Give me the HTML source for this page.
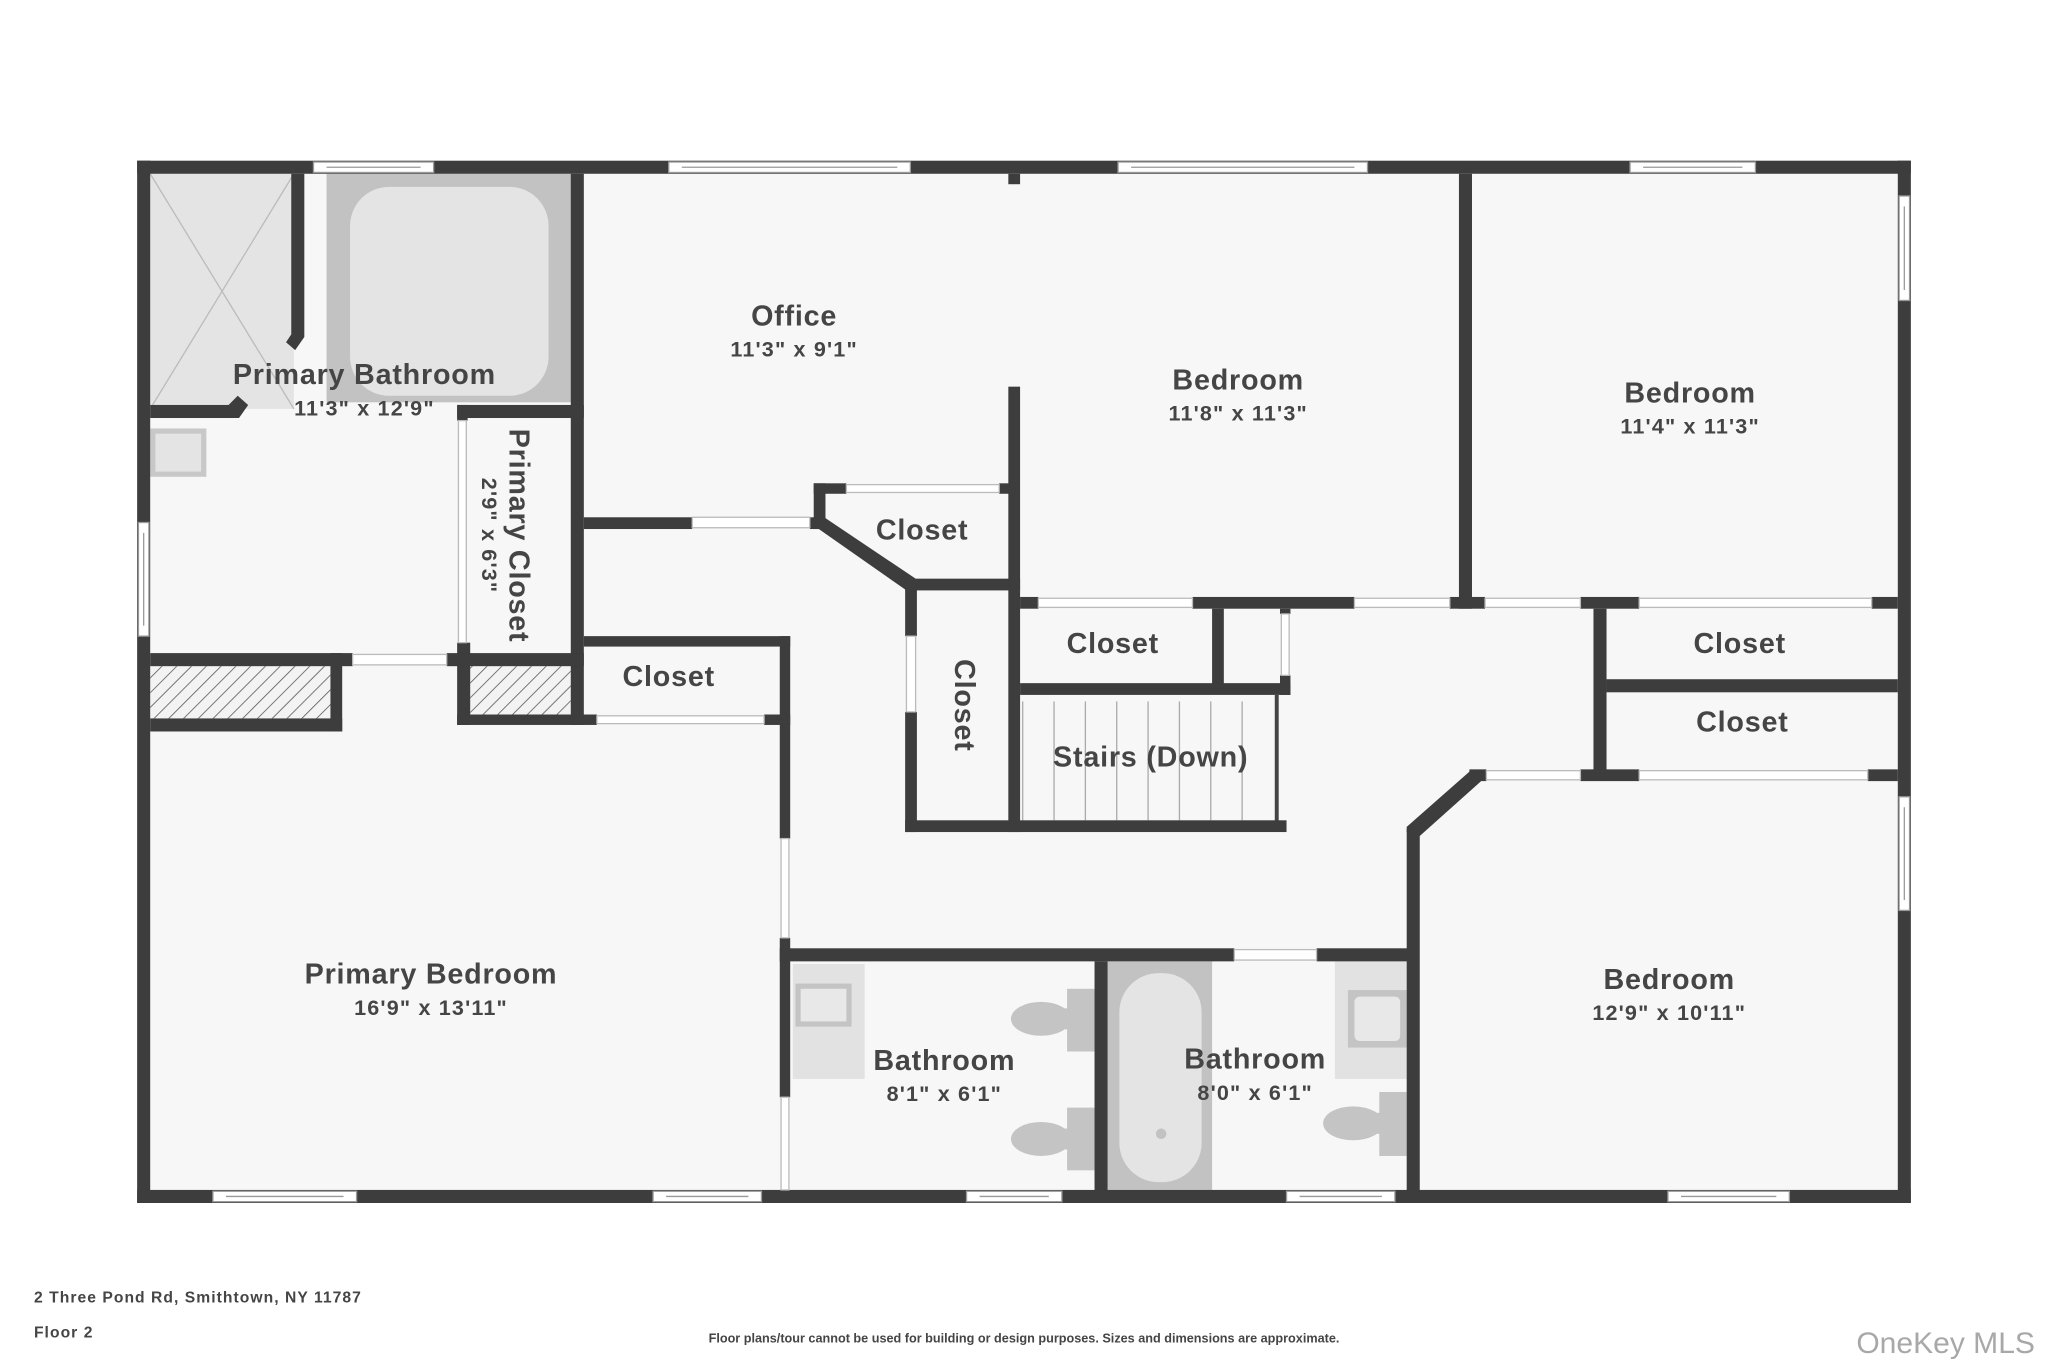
<!DOCTYPE html>
<html><head><meta charset="utf-8"><style>
html,body{margin:0;padding:0;background:#fff;}
svg{display:block;}
text{font-family:"Liberation Sans",sans-serif;font-weight:bold;fill:#454545;}
.t{font-size:22px;letter-spacing:0.6px;}
.d{font-size:16.5px;letter-spacing:0.9px;}
</style></head><body>
<svg width="2048" height="1365" viewBox="0 0 1568 1045" xmlns="http://www.w3.org/2000/svg">
<defs>
<pattern id="h" width="8" height="8" patternUnits="userSpaceOnUse" patternTransform="rotate(45)">
<rect width="8" height="8" fill="#f3f3f3"/><line x1="0" y1="0" x2="0" y2="8" stroke="#555" stroke-width="1.2"/>
</pattern>
</defs>
<rect x="0" y="0" width="1568" height="1045" fill="#fff"/>
<rect x="105" y="123" width="1358" height="798" fill="#f7f7f7"/>
<rect x="115" y="133" width="110" height="180" fill="#e4e4e4"/>
<line x1="115" y1="133" x2="225" y2="313" stroke="#bbb" stroke-width="1"/>
<line x1="225" y1="133" x2="115" y2="313" stroke="#bbb" stroke-width="1"/>
<rect x="250" y="133" width="188" height="175" fill="#c2c2c2"/>
<rect x="268" y="143" width="152" height="160" rx="30" fill="#e4e4e4"/>
<rect x="115" y="328" width="43" height="37" fill="#c8c8c8"/><rect x="119" y="332" width="35" height="29" fill="#e4e4e4"/>
<rect x="115" y="510" width="138" height="40" fill="url(#h)"/>
<rect x="360" y="510" width="77" height="37" fill="url(#h)"/>
<g stroke="#aaa" stroke-width="1">
<line x1="783" y1="537" x2="783" y2="628"/><line x1="807" y1="537" x2="807" y2="628"/><line x1="831" y1="537" x2="831" y2="628"/><line x1="855" y1="537" x2="855" y2="628"/><line x1="879" y1="537" x2="879" y2="628"/><line x1="903" y1="537" x2="903" y2="628"/><line x1="927" y1="537" x2="927" y2="628"/><line x1="951" y1="537" x2="951" y2="628"/>
</g>
<rect x="976" y="532" width="3" height="98" fill="#444"/>
<rect x="607" y="738" width="55" height="88" fill="#e2e2e2"/>
<rect x="609" y="753" width="43" height="33" fill="#c4c4c4"/><rect x="613" y="757" width="35" height="25" fill="#e8e8e8"/>
<rect x="817" y="757" width="21" height="48" fill="#c4c4c4"/><ellipse cx="797" cy="780" rx="23" ry="13" fill="#c4c4c4"/><rect x="797" y="772" width="25" height="16" fill="#c4c4c4"/>
<rect x="817" y="848" width="21" height="48" fill="#c4c4c4"/><ellipse cx="797" cy="872" rx="23" ry="13" fill="#c4c4c4"/><rect x="797" y="864" width="25" height="16" fill="#c4c4c4"/>
<rect x="848" y="736" width="80" height="175" fill="#c2c2c2"/>
<rect x="857" y="745" width="63" height="160" rx="30" fill="#e4e4e4"/>
<circle cx="889" cy="868" r="4" fill="#c2c2c2"/>
<rect x="1022" y="736" width="55" height="90" fill="#e2e2e2"/>
<rect x="1032" y="758" width="45" height="44" fill="#c4c4c4"/><rect x="1037" y="763" width="35" height="34" rx="4" fill="#e8e8e8"/>
<rect x="1056" y="836" width="21" height="49" fill="#c4c4c4"/><ellipse cx="1036" cy="860" rx="23" ry="13" fill="#c4c4c4"/><rect x="1036" y="852" width="25" height="16" fill="#c4c4c4"/>

<g fill="#3d3d3d">
<rect x="105" y="123" width="1358" height="10"/>
<rect x="105" y="911" width="1358" height="10"/>
<rect x="105" y="123" width="10" height="798"/>
<rect x="1453" y="123" width="10" height="798"/>
<rect x="223" y="133" width="10" height="120"/>
<polygon points="223,253 233,253 233,258 226,268 219,262 223,256"/>
<rect x="115" y="310" width="62" height="10"/>
<polygon points="175,310 182,303 190,310 183,320 175,320"/>
<rect x="437" y="133" width="10" height="422"/>
<rect x="350" y="310" width="97" height="10"/>
<rect x="350" y="492" width="10" height="63"/>
<rect x="350" y="310" width="8" height="12"/>
<rect x="115" y="500" width="155" height="10"/>
<rect x="342" y="500" width="105" height="10"/>
<rect x="115" y="550" width="147" height="10"/>
<rect x="253" y="500" width="9" height="60"/>
<rect x="350" y="547" width="107" height="8"/>
<rect x="447" y="487" width="158" height="8"/>
<rect x="585" y="547" width="20" height="8"/>
<rect x="597" y="487" width="8" height="155"/>
<rect x="597" y="718" width="8" height="122"/>
<rect x="447" y="396" width="83" height="9"/>
<rect x="620" y="396" width="12" height="9"/>
<rect x="623" y="370" width="9" height="35"/>
<rect x="623" y="370" width="25" height="8"/>
<rect x="765" y="370" width="10" height="8"/>
<polygon points="624,403 631,396 701,443 694,452"/>
<rect x="693" y="443" width="88" height="9"/>
<rect x="772" y="296" width="9" height="341"/>
<rect x="772" y="133" width="9" height="8"/>
<rect x="693" y="447" width="9" height="40"/>
<rect x="693" y="545" width="9" height="92"/>
<rect x="693" y="628" width="292" height="9"/>
<rect x="781" y="457" width="14" height="9"/>
<rect x="913" y="457" width="124" height="9"/>
<rect x="1110" y="457" width="27" height="9"/>
<rect x="1210" y="457" width="45" height="9"/>
<rect x="1433" y="457" width="20" height="9"/>
<rect x="928" y="466" width="9" height="61"/>
<rect x="781" y="523" width="207" height="9"/>
<rect x="980" y="517" width="8" height="15"/>
<rect x="980" y="466" width="8" height="4"/>
<rect x="1117" y="133" width="10" height="333"/>
<rect x="1220" y="466" width="10" height="131"/>
<rect x="1230" y="520" width="223" height="10"/>
<rect x="1125" y="589" width="13" height="9"/>
<rect x="1210" y="589" width="45" height="9"/>
<rect x="1430" y="589" width="23" height="9"/>
<polygon points="1127,589 1134,598 1087,640 1077,637 1077,633"/>
<rect x="1077" y="635" width="10" height="280"/>
<rect x="597" y="726" width="348" height="10"/>
<rect x="1008" y="726" width="72" height="10"/>
<rect x="838" y="736" width="10" height="178"/>
</g>

<g fill="#fff" stroke="#bbb" stroke-width="1">
<rect x="530" y="396" width="90" height="8"/>
<rect x="648" y="371" width="117" height="6"/>
<rect x="270" y="501" width="72" height="8"/>
<rect x="351" y="322" width="6" height="170"/>
<rect x="457" y="548" width="128" height="6"/>
<rect x="598" y="642" width="6" height="76"/>
<rect x="598" y="840" width="6" height="71"/>
<rect x="694" y="487" width="7" height="58"/>
<rect x="795" y="458" width="118" height="7"/>
<rect x="1037" y="458" width="73" height="7"/>
<rect x="1137" y="458" width="73" height="7"/>
<rect x="1255" y="458" width="178" height="7"/>
<rect x="981" y="470" width="6" height="47"/>
<rect x="1138" y="590" width="72" height="7"/>
<rect x="1255" y="590" width="175" height="7"/>
<rect x="945" y="727" width="63" height="8"/>
</g>
<g fill="#fff" stroke="#999" stroke-width="1">
<rect x="240" y="124" width="92" height="8"/><line x1="250" y1="128" x2="322" y2="128"/>
<rect x="512" y="124" width="185" height="8"/><line x1="522" y1="128" x2="687" y2="128"/>
<rect x="856" y="124" width="191" height="8"/><line x1="866" y1="128" x2="1037" y2="128"/>
<rect x="1248" y="124" width="96" height="8"/><line x1="1258" y1="128" x2="1334" y2="128"/>
<rect x="1454" y="150" width="8" height="80"/><line x1="1458" y1="158" x2="1458" y2="222"/>
<rect x="1454" y="610" width="8" height="87"/><line x1="1458" y1="618" x2="1458" y2="689"/>
<rect x="106" y="400" width="8" height="87"/><line x1="110" y1="408" x2="110" y2="479"/>
<rect x="163" y="912" width="110" height="8"/><line x1="173" y1="916" x2="263" y2="916"/>
<rect x="500" y="912" width="83" height="8"/><line x1="510" y1="916" x2="573" y2="916"/>
<rect x="740" y="912" width="73" height="8"/><line x1="750" y1="916" x2="803" y2="916"/>
<rect x="985" y="912" width="83" height="8"/><line x1="995" y1="916" x2="1058" y2="916"/>
<rect x="1277" y="912" width="93" height="8"/><line x1="1287" y1="916" x2="1360" y2="916"/>
</g>

<g text-anchor="middle">
<text class="t" x="608" y="249">Office</text><text class="d" x="608" y="273">11'3" x 9'1"</text>
<text class="t" x="948" y="298">Bedroom</text><text class="d" x="948" y="322">11'8" x 11'3"</text>
<text class="t" x="1294" y="308">Bedroom</text><text class="d" x="1294" y="332">11'4" x 11'3"</text>
<text class="t" x="279" y="294">Primary Bathroom</text><text class="d" x="279" y="318">11'3" x 12'9"</text>
<text class="t" x="706" y="413">Closet</text>
<text class="t" x="852" y="500">Closet</text>
<text class="t" x="1332" y="500">Closet</text>
<text class="t" x="1334" y="560">Closet</text>
<text class="t" x="512" y="525">Closet</text>
<text class="t" x="881" y="587">Stairs (Down)</text>
<text class="t" x="330" y="753">Primary Bedroom</text><text class="d" x="330" y="777">16'9" x 13'11"</text>
<text class="t" x="723" y="819">Bathroom</text><text class="d" x="723" y="843">8'1" x 6'1"</text>
<text class="t" x="961" y="818">Bathroom</text><text class="d" x="961" y="842">8'0" x 6'1"</text>
<text class="t" x="1278" y="757">Bedroom</text><text class="d" x="1278" y="781">12'9" x 10'11"</text>
<text class="t" transform="translate(397,410) rotate(90)" y="7">Primary Closet</text>
<text class="d" transform="translate(375,410) rotate(90)" y="6">2'9" x 6'3"</text>
<text class="t" transform="translate(738,540) rotate(90)" y="7">Closet</text>
</g>
<text x="26" y="997" font-size="12" letter-spacing="0.8">2 Three Pond Rd, Smithtown, NY 11787</text>
<text x="26" y="1024" font-size="12" letter-spacing="0.8">Floor 2</text>
<text x="784" y="1028" font-size="9.7" text-anchor="middle">Floor plans/tour cannot be used for building or design purposes. Sizes and dimensions are approximate.</text>
<text x="1558" y="1036" font-size="23" text-anchor="end" style="font-weight:normal;fill:#a8a8a8">OneKey MLS</text>
</svg>
</body></html>
